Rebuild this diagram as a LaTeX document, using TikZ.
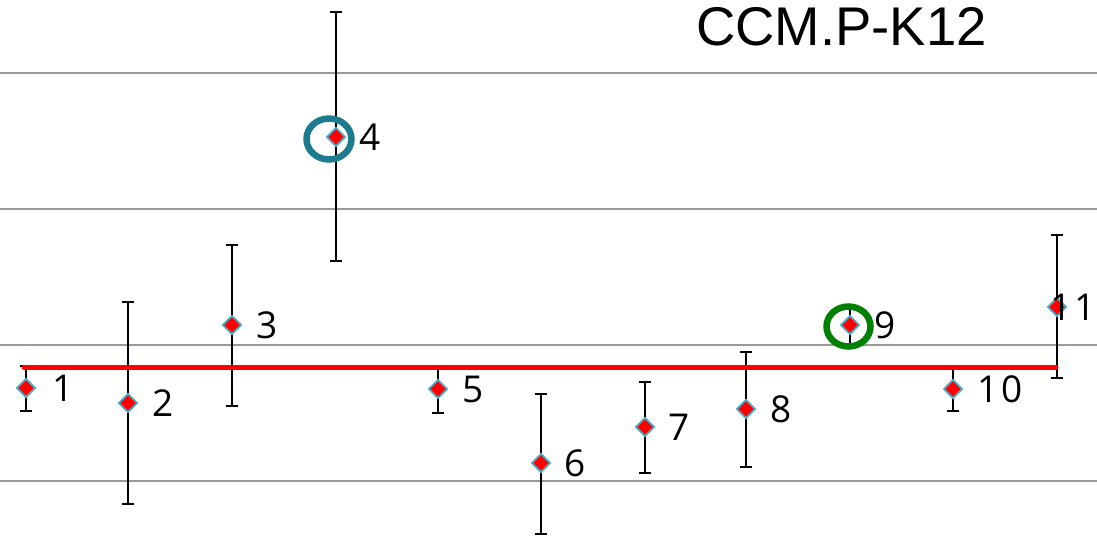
\documentclass[tikz,border=0pt]{standalone}
\usepackage{fontspec}
\setmainfont{Open Sans}
\newfontfamily\titlefont{Liberation Sans}
\usetikzlibrary{shapes.geometric}
\definecolor{gridgray}{HTML}{9A9A9A}
\definecolor{mkborder}{HTML}{4AAFCB}
\definecolor{ringteal}{HTML}{1E7A8E}
\definecolor{ringgreen}{HTML}{008000}
\tikzset{
  grid line/.style={draw=gridgray, line width=1.6pt},
  ref line/.style={draw=red, line width=5pt, line cap=round},
  errbar/.style={draw=black, line width=1.6pt},
  mk/.style={diamond, fill=red, draw=mkborder, line width=1.8pt, minimum width=19pt, minimum height=19pt, inner sep=0pt},
  lbl/.style={anchor=west, inner sep=0pt, font=\fontsize{37}{42}\selectfont},
  ring/.style={ellipse, line width=6.5pt, minimum width=45pt, minimum height=41pt, inner sep=0pt},
}
\begin{document}
\begin{tikzpicture}[x=1pt,y=-1pt]
\useasboundingbox (0,0) rectangle (1097,537);
% grid lines
\foreach \gy/\gn in {73/a,209/b,345/c,481/d}{
  \coordinate (g\gn l) at (0,\gy);
  \coordinate (g\gn r) at (1097,\gy);
  \draw[grid line] (g\gn l) -- (g\gn r);
}
% title
\node[anchor=north west, inner sep=0pt, font=\titlefont\fontsize{54.5}{60}\selectfont] (title) at (696,7) {CCM.P-K12};
% error bars
\foreach \n/\px/\ty/\by in {1/26/366/411,2/128/302/504,3/232/245/406,4/336/12/261,5/438/366/413,6/541/394/534,7/645/382/473,8/746/352/467,9/850/306/347,10/953/366/411,11/1057/235/378}{
  \coordinate (e\n t) at (\px,\ty);
  \coordinate (e\n b) at (\px,\by);
  \coordinate (e\n tl) at ([xshift=-6pt]e\n t);
  \coordinate (e\n tr) at ([xshift=6pt]e\n t);
  \coordinate (e\n bl) at ([xshift=-6pt]e\n b);
  \coordinate (e\n br) at ([xshift=6pt]e\n b);
  \draw[errbar] (e\n t) -- (e\n b);
  \draw[errbar] (e\n tl) -- (e\n tr);
  \draw[errbar] (e\n bl) -- (e\n br);
}
% reference line
\coordinate (rl) at (24,367);
\coordinate (rr) at (1056,367);
\draw[ref line] (rl) -- (rr);
% rings
\node[ring, draw=ringteal] (r4) at (329,139) {};
\node[ring, draw=ringgreen, minimum width=44pt, minimum height=40pt] (r9) at (848.5,326.5) {};
% markers and labels
\foreach \n/\px/\py in {1/26/388,2/128/403,3/232/325,4/336/137,5/438/389,6/541/463,7/645/427,8/746/409,9/850/325,10/953/389,11/1057/307}{
  \node[mk] (p\n) at (\px,\py) {};
}
\foreach \n/\lx/\py in {1/52/388,2/152/403,3/256/325,4/359/137,5/462/389,6/564/463,7/668/427,8/770/409,9/874/325}{
  \node[lbl] (l\n) at (\lx,\py) {\n};
}
\node[lbl] (l10) at (977,389) {1\kern3.5pt 0};
\node[lbl, anchor=east] (l11) at (1096,307) {1\kern3.5pt 1};
\end{tikzpicture}
\end{document}
